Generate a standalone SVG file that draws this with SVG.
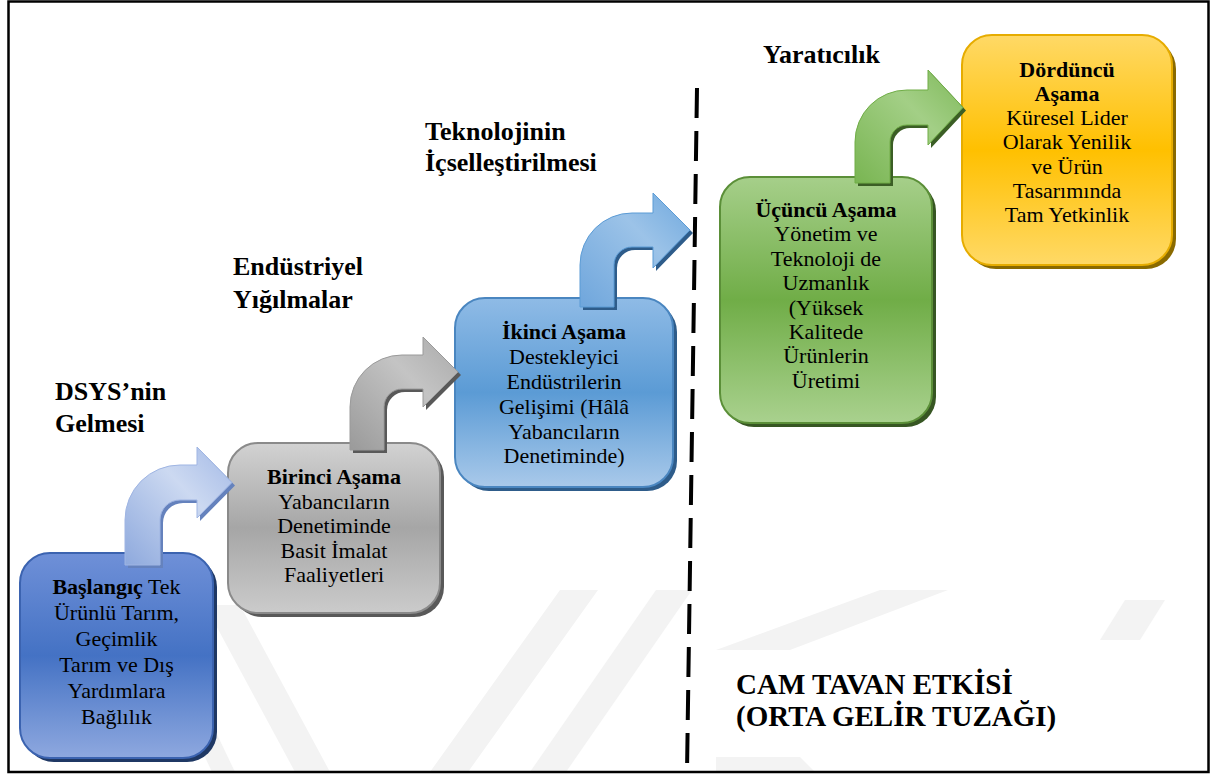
<svg xmlns="http://www.w3.org/2000/svg" width="1219" height="778" viewBox="0 0 1219 778">
<style>
.lbl{font-family:"Liberation Serif","Times New Roman",serif;font-weight:bold;font-size:26px;fill:#000}
.big{font-size:29px}
.bt{font-family:"Liberation Serif","Times New Roman",serif;font-size:22px;fill:#000;text-anchor:middle}
.b{font-weight:bold}
.wm{fill:#f3f3f3}
</style>
<defs>
<linearGradient id="gB1" x1="0" y1="0" x2="0" y2="1">
<stop offset="0" stop-color="#6f90d8"/><stop offset="0.5" stop-color="#4472c4"/><stop offset="1" stop-color="#8ea8df"/>
</linearGradient>
<linearGradient id="gB2" x1="0" y1="0" x2="0" y2="1">
<stop offset="0" stop-color="#d2d2d2"/><stop offset="0.5" stop-color="#a6a6a6"/><stop offset="1" stop-color="#cbcbcb"/>
</linearGradient>
<linearGradient id="gB3" x1="0" y1="0" x2="0" y2="1">
<stop offset="0" stop-color="#8fbbe6"/><stop offset="0.5" stop-color="#5b9bd5"/><stop offset="1" stop-color="#a9c9ea"/>
</linearGradient>
<linearGradient id="gB4" x1="0" y1="0" x2="0" y2="1">
<stop offset="0" stop-color="#a6cf8a"/><stop offset="0.5" stop-color="#70ad47"/><stop offset="1" stop-color="#a9d18e"/>
</linearGradient>
<linearGradient id="gB5" x1="0" y1="0" x2="0" y2="1">
<stop offset="0" stop-color="#ffd966"/><stop offset="0.5" stop-color="#ffc000"/><stop offset="1" stop-color="#ffd966"/>
</linearGradient>
<linearGradient id="gA1" x1="0" y1="1" x2="1" y2="0">
<stop offset="0" stop-color="#8ea9dd"/><stop offset="0.6" stop-color="#ccd9f1"/><stop offset="1" stop-color="#a3b9e6"/>
</linearGradient>
<linearGradient id="gA2" x1="0" y1="1" x2="1" y2="0">
<stop offset="0" stop-color="#9a9a9a"/><stop offset="0.6" stop-color="#c4c4c4"/><stop offset="1" stop-color="#a9a9a9"/>
</linearGradient>
<linearGradient id="gA3" x1="0" y1="1" x2="1" y2="0">
<stop offset="0" stop-color="#6fa6dc"/><stop offset="0.6" stop-color="#9cc3e8"/><stop offset="1" stop-color="#6ea8de"/>
</linearGradient>
<linearGradient id="gA4" x1="0" y1="1" x2="1" y2="0">
<stop offset="0" stop-color="#79b552"/><stop offset="0.6" stop-color="#a3cf86"/><stop offset="1" stop-color="#7fb95a"/>
</linearGradient>
</defs>
<rect x="0" y="0" width="1219" height="778" fill="#fff"/>
<g id="watermark">
<polygon class="wm" points="205,605 240,605 330,772 295,772"/>
<polygon class="wm" points="150,640 172,640 235,772 212,772"/>
<polygon class="wm" points="430,772 468,772 598,590 560,590"/>
<polygon class="wm" points="530,772 566,772 692,590 656,590"/>
<polygon class="wm" points="716,650 790,650 948,590 880,590"/>
<polygon class="wm" points="1100,640 1140,640 1165,600 1125,600"/>
<polygon class="wm" points="716,757 800,757 815,772 716,772"/>
</g>
<rect x="8.5" y="1.5" width="1200" height="770.5" fill="none" stroke="#000" stroke-width="2.5"/>
<g id="connectors">
<line x1="697" y1="88" x2="687" y2="772" stroke="#000" stroke-width="4" stroke-dasharray="30 13"/>
</g>
<g id="box1">
<rect x="24" y="557" width="193" height="205" rx="30" fill="#1f3864"/>
<rect x="20" y="553" width="193" height="205" rx="30" fill="url(#gB1)" stroke="#3b63b0" stroke-width="2"/>
<text class="bt"><tspan x="116.5" y="594"><tspan class="b">Başlangıç</tspan> Tek</tspan><tspan x="116.5" y="620">Ürünlü Tarım,</tspan><tspan x="116.5" y="646">Geçimlik</tspan><tspan x="116.5" y="672">Tarım ve Dış</tspan><tspan x="116.5" y="698">Yardımlara</tspan><tspan x="116.5" y="724">Bağlılık</tspan></text>
</g>
<g id="box2">
<rect x="232" y="447" width="212" height="170" rx="30" fill="#595959"/>
<rect x="228" y="443" width="212" height="170" rx="30" fill="url(#gB2)" stroke="#8a8a8a" stroke-width="2"/>
<text class="bt"><tspan x="334" y="484" class="b">Birinci Aşama</tspan><tspan x="334" y="508.5">Yabancıların</tspan><tspan x="334" y="533">Denetiminde</tspan><tspan x="334" y="557.5">Basit İmalat</tspan><tspan x="334" y="582">Faaliyetleri</tspan></text>
</g>
<g id="box3">
<rect x="459" y="302" width="218" height="189" rx="30" fill="#2e5c8a"/>
<rect x="455" y="298" width="218" height="189" rx="30" fill="url(#gB3)" stroke="#4a86c0" stroke-width="2"/>
<text class="bt"><tspan x="564" y="339" class="b">İkinci Aşama</tspan><tspan x="564" y="364">Destekleyici</tspan><tspan x="564" y="389">Endüstrilerin</tspan><tspan x="564" y="414">Gelişimi (Hâlâ</tspan><tspan x="564" y="439">Yabancıların</tspan><tspan x="564" y="463">Denetiminde)</tspan></text>
</g>
<g id="box4">
<rect x="724" y="181" width="212" height="246" rx="30" fill="#375623"/>
<rect x="720" y="177" width="212" height="246" rx="30" fill="url(#gB4)" stroke="#5b8f38" stroke-width="2"/>
<text class="bt"><tspan x="826" y="217" class="b">Üçüncü Aşama</tspan><tspan x="826" y="241.4">Yönetim ve</tspan><tspan x="826" y="265.8">Teknoloji de</tspan><tspan x="826" y="290.2">Uzmanlık</tspan><tspan x="826" y="314.6">(Yüksek</tspan><tspan x="826" y="339">Kalitede</tspan><tspan x="826" y="363.4">Ürünlerin</tspan><tspan x="826" y="387.8">Üretimi</tspan></text>
</g>
<g id="box5">
<rect x="966" y="39" width="210" height="230" rx="30" fill="#8a6a00"/>
<rect x="962" y="35" width="210" height="230" rx="30" fill="url(#gB5)" stroke="#e6ac00" stroke-width="2"/>
<text class="bt"><tspan x="1067" y="77" class="b">Dördüncü</tspan><tspan x="1067" y="101" class="b">Aşama</tspan><tspan x="1067" y="125">Küresel Lider</tspan><tspan x="1067" y="149">Olarak Yenilik</tspan><tspan x="1067" y="173.5">ve Ürün</tspan><tspan x="1067" y="197.5">Tasarımında</tspan><tspan x="1067" y="222">Tam Yetkinlik</tspan></text>
</g>
<g id="arrow1">
<path d="M125,565 V520 A55,55 0 0 1 180,465 H197 V447 L232,482.5 L197,518 V500 H180 A20,20 0 0 0 160,520 V565 Z" fill="#6582bd" transform="translate(3,3)"/>
<path d="M125,565 V520 A55,55 0 0 1 180,465 H197 V447 L232,482.5 L197,518 V500 H180 A20,20 0 0 0 160,520 V565 Z" fill="url(#gA1)" stroke="#9fb5e3" stroke-width="1"/>
</g>
<g id="arrow2">
<path d="M350,450 V407 A52,52 0 0 1 402,355 H423 V337 L458,372 L423,407 V389 H402 A18,18 0 0 0 384,407 V450 Z" fill="#595959" transform="translate(3,3)"/>
<path d="M350,450 V407 A52,52 0 0 1 402,355 H423 V337 L458,372 L423,407 V389 H402 A18,18 0 0 0 384,407 V450 Z" fill="url(#gA2)" stroke="#9a9a9a" stroke-width="1"/>
</g>
<g id="arrow3">
<path d="M580,307 V265 A52,52 0 0 1 632,213 H653 V193 L690,230 L653,268 V247 H632 A18,18 0 0 0 614,265 V307 Z" fill="#2e5c8a" transform="translate(3,3)"/>
<path d="M580,307 V265 A52,52 0 0 1 632,213 H653 V193 L690,230 L653,268 V247 H632 A18,18 0 0 0 614,265 V307 Z" fill="url(#gA3)" stroke="#5b9bd5" stroke-width="1"/>
</g>
<g id="arrow4">
<path d="M855,183 V142 A52,52 0 0 1 907,90 H928 V70 L963,107.5 L928,145 V125 H907 A17,17 0 0 0 890,142 V183 Z" fill="#3b5e25" transform="translate(3,3)"/>
<path d="M855,183 V142 A52,52 0 0 1 907,90 H928 V70 L963,107.5 L928,145 V125 H907 A17,17 0 0 0 890,142 V183 Z" fill="url(#gA4)" stroke="#70ad47" stroke-width="1"/>
</g>
<g id="labels">
<text class="lbl"><tspan x="55" y="400">DSYS’nin</tspan><tspan x="55" y="432">Gelmesi</tspan></text>
<text class="lbl"><tspan x="233" y="275">Endüstriyel</tspan><tspan x="233" y="308">Yığılmalar</tspan></text>
<text class="lbl"><tspan x="425" y="140">Teknolojinin</tspan><tspan x="425" y="171">İçselleştirilmesi</tspan></text>
<text class="lbl" x="763" y="63">Yaratıcılık</text>
</g>
<g id="note">
<rect x="718" y="650" width="487" height="107" fill="#fff"/>
<text class="lbl big"><tspan x="736" y="694">CAM TAVAN ETKİSİ</tspan><tspan x="736" y="726">(ORTA GELİR TUZAĞI)</tspan></text>
</g>
</svg>
